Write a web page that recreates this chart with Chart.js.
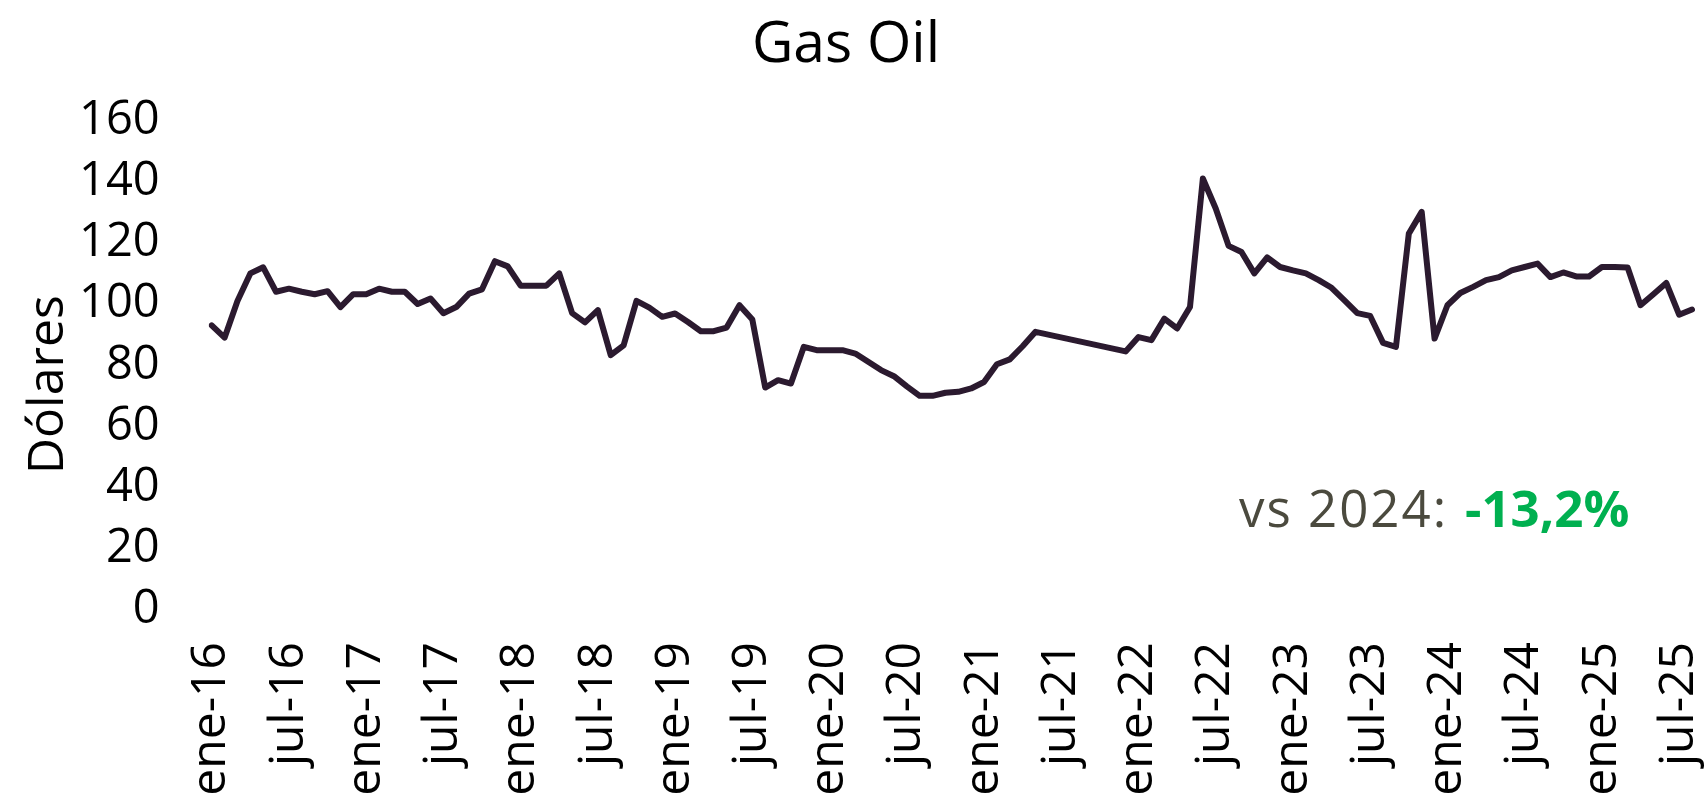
<!DOCTYPE html>
<html>
<head>
<meta charset="utf-8">
<script src="https://cdn.jsdelivr.net/npm/chart.js@4"></script>
<style>
    html, body { margin: 0; padding: 0; background: #fff; overflow: hidden; }
    #wrap { width: 1708px; height: 860px; position: relative; }
</style>
</head>
<body>
<div id="wrap"><canvas id="gasChart"></canvas></div>
<script>
// Meses ene-16 .. ago-25 (las etiquetas del eje salen cada 6 meses)
const months = ['ene', 'feb', 'mar', 'abr', 'may', 'jun', 'jul', 'ago', 'sep', 'oct', 'nov', 'dic'];
const years = ['16', '17', '18', '19', '20', '21', '22', '23', '24', '25'];
const lastMonthIndex = 115;

// Precio Gas Oil en dolares (null = sin dato, la linea se une)
const gasOil = [
    93, 89, 101, 110, 112, 104, 105, 104, 103.2, 104.2, 99, 103.2,
    103.2, 105, 104, 104, 100, 101.8, 97, 99, 103.4, 104.8, 114, 112.3,
    106, 106, 106, 110, 97, 94, 98, 83.3, 86.5, 101, 98.8, 95.8,
    96.9, 94.1, 91.1, 91.1, 92.3, 99.6, 94.9, 72.7, 75.1, 74, 86, 84.9,
    84.9, 84.9, 83.8, 81.1, 78.4, 76.4, 73.1, 70, 70, 71, 71.3, 72.4,
    74.5, 80.3, 81.9, 86.2, 90.9, null, null, null, null, null, null, 84.5,
    89.2, 88.2, 95.2, 92, 99, 141, 131.2, 119, 117, 110, 115.2, 112.1,
    111, 110, 107.8, 105.3, 101.2, 97, 96.1, 87.3, 86, 123, 130.1, 88.7,
    99.6, 103.6, 105.6, 107.8, 108.8, 111, 112.1, 113.2, 108.8, 110.3, 109, 109,
    112.1, 112.1, 111.9, 99.6, 103.2, 106.9, 96.5, 98.2
];

const yTicks = [0, 20, 40, 60, 80, 100, 120, 140, 160];
const compareLabel = 'vs 2024:';
const compareValue = '-13,2%';

const labels = [];
years.forEach(y => {
    months.forEach(m => {
        if (labels.length <= lastMonthIndex) labels.push(m + '-' + y);
    });
});

const FONT = "'Open Sans', 'Noto Sans', sans-serif";

const comparePlugin = {
    id: 'compareText',
    afterDraw(chart) {
        const ctx = chart.ctx;
        ctx.save();
        ctx.textBaseline = 'alphabetic';
        ctx.textAlign = 'left';
        ctx.font = '400 51px ' + FONT;
        ctx.fillStyle = '#4b4a3e';
        ctx.letterSpacing = '2px';
        ctx.fillText(compareLabel, 1239, 527);
        ctx.letterSpacing = '0px';
        ctx.font = '700 51px ' + FONT;
        ctx.fillStyle = '#00b050';
        ctx.fillText(compareValue, 1465, 527);
        ctx.restore();
    }
};

new Chart(document.getElementById('gasChart'), {
    type: 'line',
    data: {
        labels: labels,
        datasets: [{
            label: 'Gas Oil',
            data: gasOil,
            borderColor: '#2b1a2f',
            borderWidth: 6,
            pointRadius: 0,
            tension: 0,
            spanGaps: true,
            borderJoinStyle: 'round',
            borderCapStyle: 'round'
        }]
    },
    options: {
        responsive: true,
        maintainAspectRatio: false,
        animation: false,
        layout: { padding: { top: 0, right: 16, bottom: 0, left: 0 } },
        plugins: {
            legend: { display: false },
            tooltip: { enabled: false },
            title: {
                display: true,
                text: 'Gas Oil',
                color: '#000',
                font: { family: FONT, size: 57, weight: '400' },
                padding: { top: 12, bottom: 40 }
            }
        },
        scales: {
            x: {
                type: 'category',
                grid: { display: false, drawTicks: false },
                border: { display: false },
                ticks: {
                    autoSkip: false,
                    maxRotation: 90,
                    minRotation: 90,
                    padding: 32,
                    color: '#000',
                    font: { family: FONT, size: 48, weight: '400' },
                    callback: function(value, index) {
                        return index % 6 === 0 ? labels[index] : '';
                    }
                },
                afterFit: function(scale) {
                    scale.height = 250;
                    scale.paddingLeft = 0;
                    scale.paddingRight = 0;
                }
            },
            y: {
                min: 0,
                max: 160,
                afterBuildTicks: function(scale) {
                    scale.ticks = yTicks.map(v => ({ value: v }));
                },
                grid: { display: false, drawTicks: false },
                border: { display: false },
                ticks: {
                    padding: 52,
                    color: '#000',
                    font: { family: FONT, size: 47, weight: '400' }
                },
                title: {
                    display: true,
                    text: 'Dólares\u00A0\u00A0\u00A0',
                    color: '#000',
                    font: { family: FONT, size: 50, weight: '400' },
                    padding: { top: 19, bottom: 0 }
                },
                afterFit: function(scale) {
                    scale.width = 211.7;
                    scale.paddingTop = 0;
                    scale.paddingBottom = 0;
                }
            }
        }
    },
    plugins: [comparePlugin]
});
</script>
</body>
</html>
